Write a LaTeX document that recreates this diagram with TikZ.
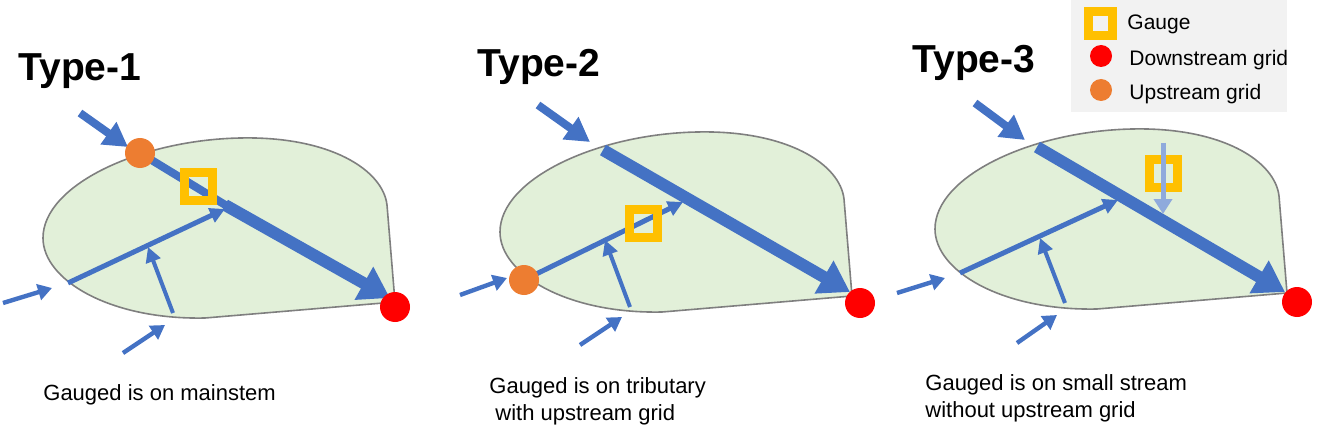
\documentclass[tikz,border=0pt]{standalone}
\usepackage{fontspec}
\setmainfont{Liberation Sans}
\usetikzlibrary{arrows.meta}

\definecolor{river}{HTML}{4472C4}
\definecolor{smallriver}{HTML}{8FAADC}
\definecolor{basinfill}{HTML}{E2F0D9}
\definecolor{basinedge}{HTML}{7F7F7F}
\definecolor{gaugeyellow}{HTML}{FFC000}
\definecolor{upcolor}{HTML}{ED7D31}
\definecolor{legendbg}{HTML}{F2F2F2}

\begin{document}
\begin{tikzpicture}[
  x=0.5pt, y=-0.5pt,
  basin/.pic={\draw[fill=basinfill, draw=basinedge, line width=0.8pt]
    (395,302) -- (205,318) .. controls (110,320) and (43,280) .. (43,238)
    .. controls (43,185) and (140,140) .. (240,138)
    .. controls (330,136) and (383,170) .. (387,205) -- cycle;},
  inflow/.style={draw=river, line width=4pt, -{Triangle[length=12pt,width=13pt]}},
  mainstem/.style={draw=river, line width=6pt, -{Triangle[length=15pt,width=18pt]}},
  trib/.style={draw=river, line width=2.5pt, -{Triangle[length=7.5pt,width=7.5pt]}},
  side/.style={draw=river, line width=2.2pt, -{Triangle[length=7pt,width=8pt]}},
  smallflow/.style={draw=smallriver, line width=2.5pt, -{Triangle[length=7.5pt,width=9pt]}},
  gauge/.style={draw=gaugeyellow, line width=4.5pt, minimum size=14pt, inner sep=0},
  dngrid/.style={circle, fill=red, minimum size=15pt, inner sep=0},
  upgrid/.style={circle, fill=upcolor, minimum size=15pt, inner sep=0},
  title/.style={font=\fontsize{19.5}{22}\selectfont\bfseries, inner sep=0, anchor=base west},
  caption/.style={font=\fontsize{11}{13.5}\selectfont, inner sep=0, anchor=west, align=left},
  legtext/.style={font=\fontsize{10.5}{13}\selectfont, inner sep=0, anchor=base west}
]
\useasboundingbox (0,0) rectangle (1338,444);

% Type-1
\node[title] (t1) at (18,81) {Type-1};
\pic at (0,0) {basin};
\draw[inflow] (80,113) -- (128,147);
\draw[draw=river, line width=4pt] (140,153) -- (227,206);
\draw[mainstem] (225,205) -- (390,298);
\draw[trib] (68,283) -- (225,209);
\draw[trib, line width=2pt] (173,313) -- (148,247);
\draw[side] (3,303) -- (52,288);
\draw[side] (123,353) -- (165,325);
\node[upgrid] (up1) at (140,153) {};
\node[dngrid] (dn1) at (395,307) {};
\node[gauge] (g1) at (198,186) {};
\node[caption] (cap1) at (43,395) {Gauged is on mainstem};

% Type-2
\node[title] (t2) at (477,77) {Type-2};
\pic at (457,-6) {basin};
\draw[inflow] (538,105) -- (590,142);
\draw[mainstem] (603,150) -- (850,292);
\draw[trib] (524,280) -- (683,202);
\draw[trib, line width=2pt] (630,307) -- (605,240);
\draw[side] (460,295) -- (507,278);
\draw[side] (580,345) -- (622,317);
\node[upgrid] (up2) at (524,280) {};
\node[dngrid] (dn2) at (860,303) {};
\node[gauge] (g2) at (643,223) {};
\node[caption] (cap2) at (489,401) {Gauged is on tributary\\\hspace{3pt}with upstream grid};

% Type-3
\node[title] (t3) at (912,73) {Type-3};
\pic at (892,-9) {basin};
\draw[inflow] (975,103) -- (1025,140);
\draw[mainstem] (1037,147) -- (1285,292);
\draw[trib] (960,273) -- (1118,200);
\draw[trib, line width=2pt] (1065,303) -- (1040,238);
\draw[side] (897,293) -- (945,278);
\draw[side] (1017,343) -- (1057,315);
\node[dngrid] (dn3) at (1297,302) {};
\node[gauge] (g3) at (1163,173) {};
\draw[smallflow] (1163,143) -- (1163,214);
\node[caption] (cap3) at (925,398) {Gauged is on small stream\\without upstream grid};

% legend
\fill[legendbg] (1071,0) rectangle (1287,112);
\node[gauge, minimum size=12pt] (lggauge) at (1100,24) {};
\node[dngrid, minimum size=11pt] (lgdn) at (1101,56) {};
\node[upgrid, minimum size=11pt] (lgup) at (1101,90) {};
\node[legtext] (lgt1) at (1127,30) {Gauge};
\node[legtext] (lgt2) at (1129,66) {Downstream grid};
\node[legtext] (lgt3) at (1129,100) {Upstream grid};
\end{tikzpicture}
\end{document}
